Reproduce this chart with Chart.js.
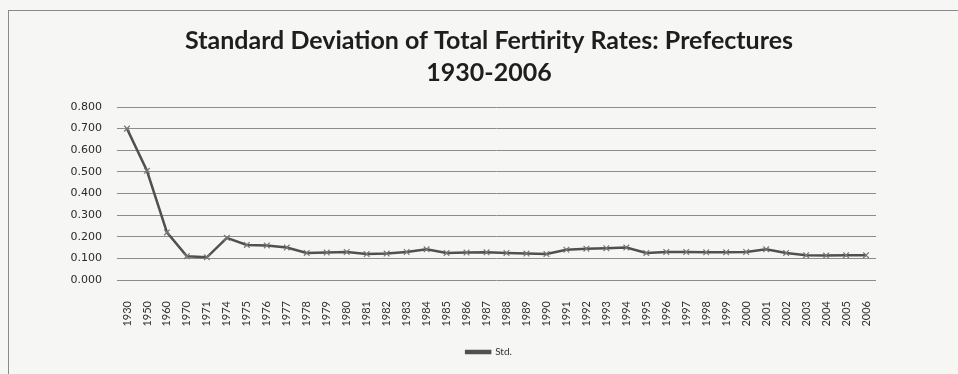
<!DOCTYPE html>
<html>
<head>
<meta charset="utf-8">
<script src="https://cdn.jsdelivr.net/npm/chart.js@4/dist/chart.umd.min.js"></script>
<style>
  html, body { margin: 0; padding: 0; background: #f6f6f4; }
  #wrap { position: relative; width: 958px; height: 374px; }
  #marco { position: absolute; left: 8px; top: 10px; right: 0; bottom: 0;
           border-left: 1px solid #8a8a8a; border-top: 1px solid #8a8a8a; }
  canvas { position: absolute; left: 0; top: 0; }
</style>
</head>
<body>
<div id="wrap">
  <div id="marco"></div>
  <canvas id="grafica" width="958" height="374"></canvas>
</div>
<script>
// Años del eje X
const anios = ['1930', '1950', '1960', '1970', '1971', '1974', '1975', '1976', '1977', '1978',
  '1979', '1980', '1981', '1982', '1983', '1984', '1985', '1986', '1987', '1988',
  '1989', '1990', '1991', '1992', '1993', '1994', '1995', '1996', '1997', '1998',
  '1999', '2000', '2001', '2002', '2003', '2004', '2005', '2006'];

// Desviación estándar de la tasa global de fecundidad por prefecturas
const desviacion = [0.700, 0.505, 0.220, 0.110, 0.105, 0.195, 0.162, 0.160, 0.150, 0.125,
  0.127, 0.130, 0.120, 0.122, 0.130, 0.142, 0.125, 0.127, 0.128, 0.125,
  0.122, 0.120, 0.140, 0.145, 0.147, 0.150, 0.125, 0.130, 0.130, 0.128,
  0.128, 0.130, 0.142, 0.125, 0.115, 0.113, 0.115, 0.115];

const titulo = ['Standard Deviation of Total Fertirity Rates: Prefectures', '1930-2006'];
const serie = 'Std.';

new Chart(document.getElementById('grafica'), {
  type: 'line',
  data: {
    labels: anios,
    datasets: [{
      label: serie,
      data: desviacion,
      borderColor: '#505050',
      backgroundColor: '#505050',
      borderWidth: 2.5,
      pointStyle: 'crossRot',
      pointRadius: 4,
      pointBorderWidth: 1.2,
      pointBorderColor: '#777',
      tension: 0
    }]
  },
  options: {
    responsive: false,
    animation: false,
    layout: { padding: { top: 25, left: 20, right: 0, bottom: 7 } },
    plugins: {
      title: {
        display: true,
        text: titulo,
        color: '#1e1e1e',
        font: { family: 'Lato', weight: 'bold', size: 25, lineHeight: '32px' },
        padding: { top: 0, bottom: 18 }
      },
      legend: {
        position: 'bottom',
        labels: {
          boxWidth: 24,
          boxHeight: 2,
          color: '#333',
          font: { family: 'Lato', size: 10 },
          padding: 10
        }
      },
      tooltip: { enabled: false }
    },
    scales: {
      x: {
        offset: true,
        grid: { display: false },
        border: { display: false },
        ticks: {
          autoSkip: false,
          maxRotation: 90,
          minRotation: 90,
          padding: 13,
          color: '#333',
          font: { family: 'Lato', size: 11 }
        },
        afterFit: (eje) => { eje.height = 57; }
      },
      y: {
        min: 0,
        max: 0.8,
        grid: { color: '#8c8c8c', lineWidth: 1, drawTicks: false },
        border: { display: false },
        ticks: {
          stepSize: 0.1,
          padding: 15,
          color: '#2a2a2a',
          font: { family: 'DejaVu Sans', size: 11 },
          callback: (v) => v.toFixed(3)
        },
        afterFit: (eje) => { eje.width = 97; }
      },
      derecha: {
        position: 'right',
        display: true,
        grid: { display: false },
        border: { display: false },
        ticks: { display: false },
        afterFit: (eje) => { eje.width = 82; }
      }
    }
  }
});
</script>
</body>
</html>
